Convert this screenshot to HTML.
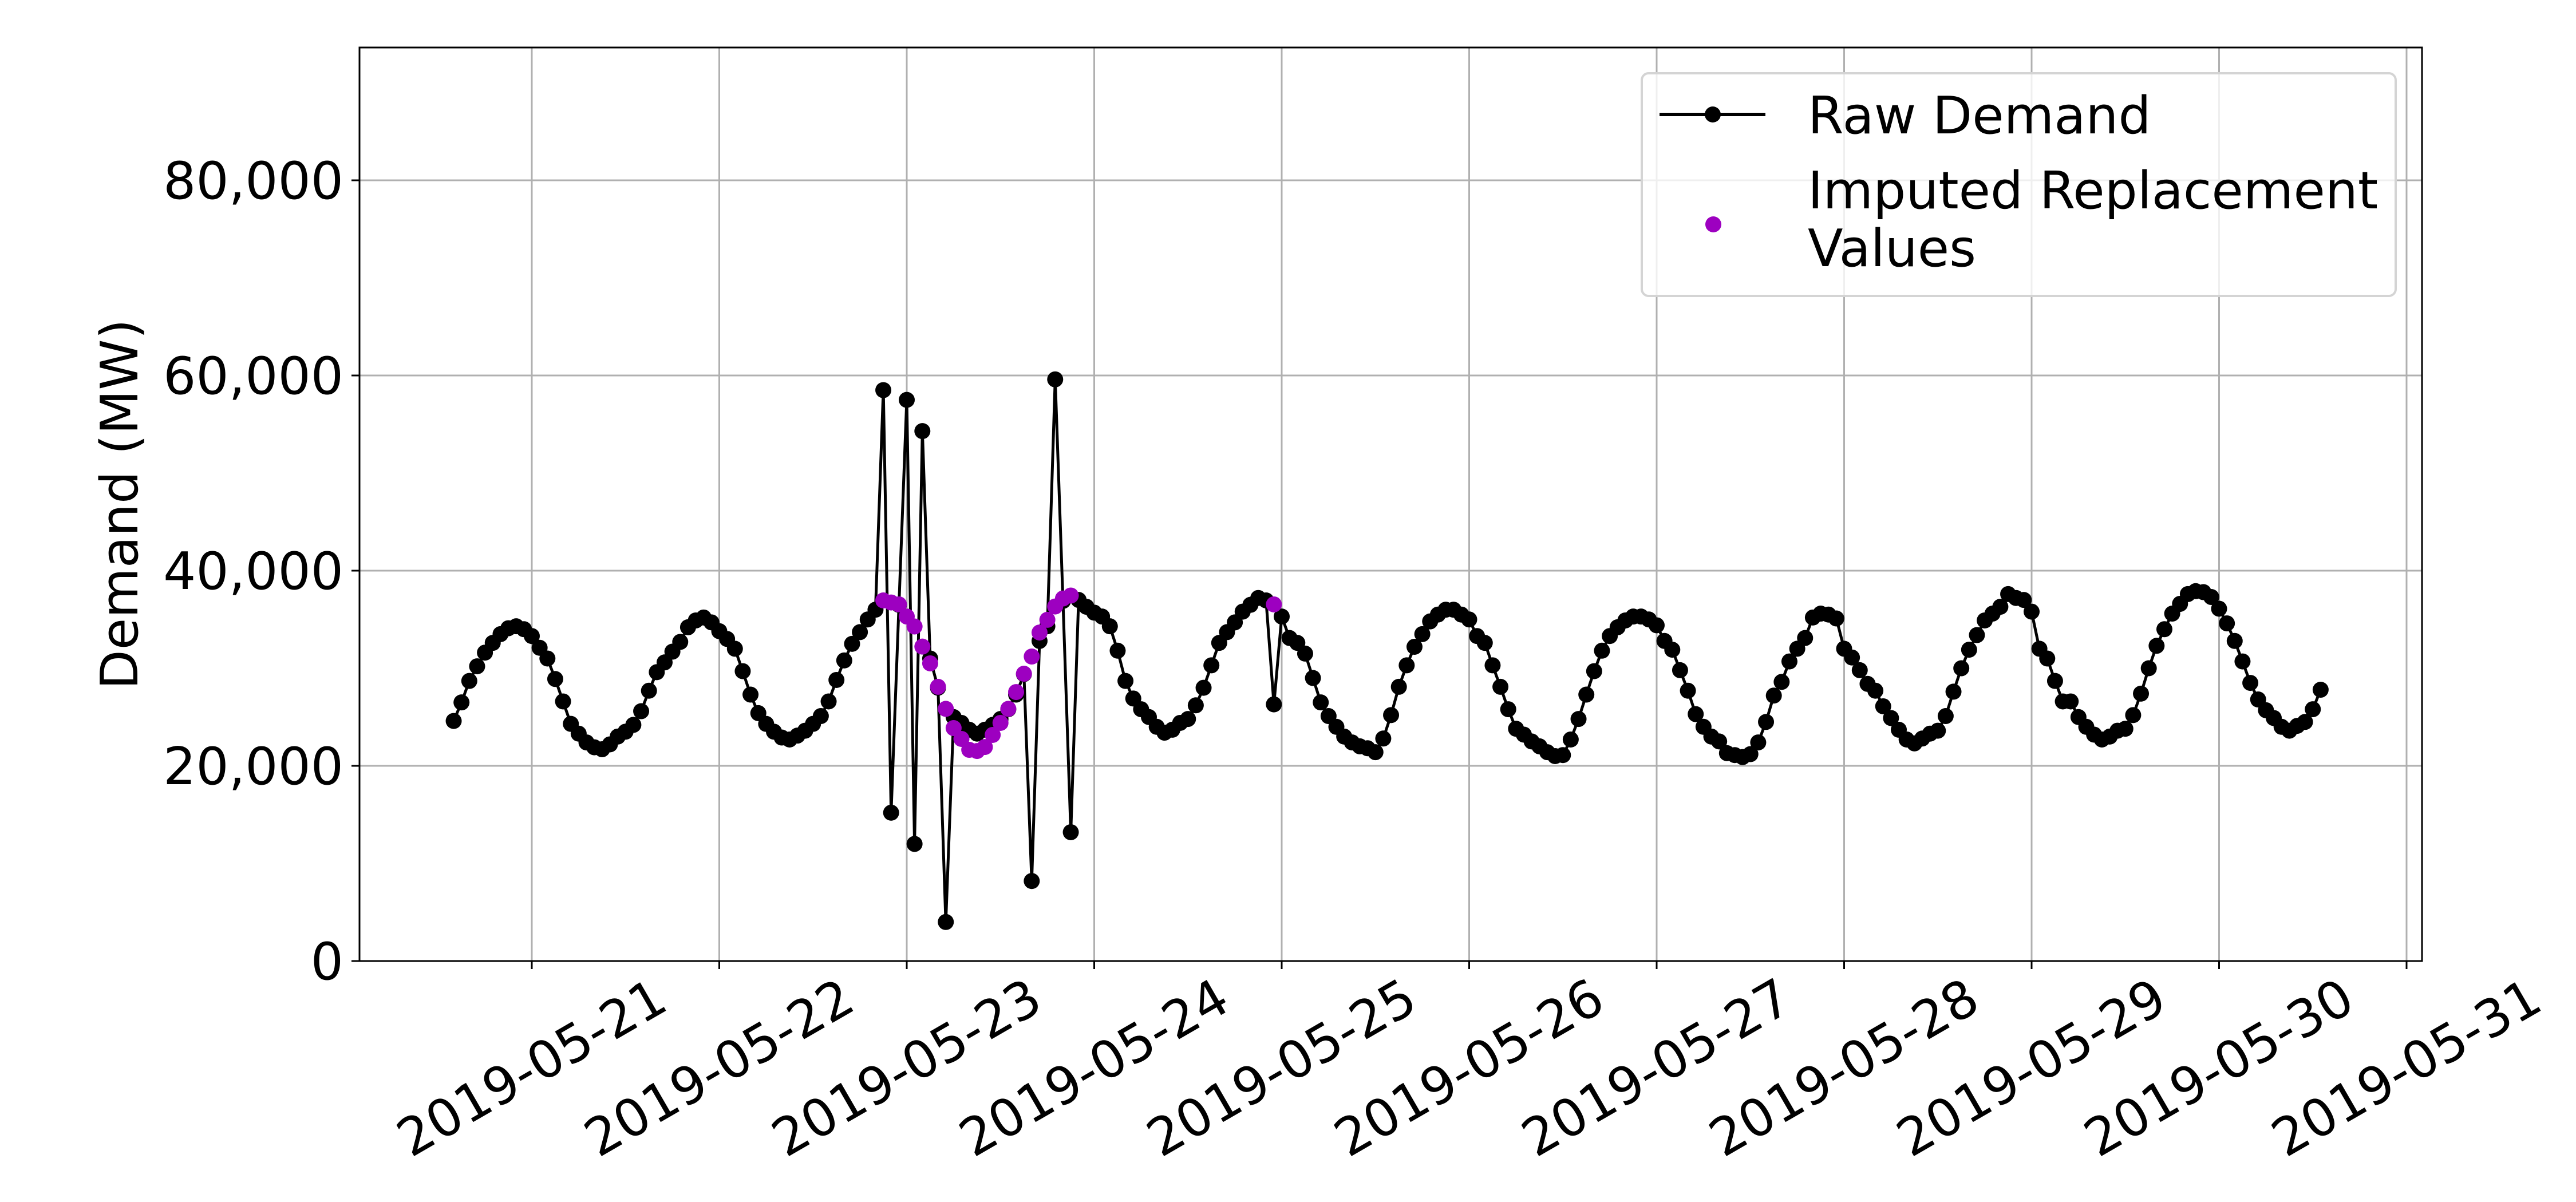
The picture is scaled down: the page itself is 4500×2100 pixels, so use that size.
<!DOCTYPE html>
<html>
<head>
<meta charset="utf-8">
<style>
  html, body { margin: 0; padding: 0; background: #fff; }
  svg { display: block; }
  text { font-family: "DejaVu Sans", "Liberation Sans", sans-serif; fill: #000; }
</style>
</head>
<body>
<svg id="chart" width="4500" height="2100" viewBox="0 0 4500 2100" xmlns="http://www.w3.org/2000/svg">
  <rect x="0" y="0" width="4500" height="2100" fill="#fff"/>
  <g id="grid"></g>
  <g id="series"></g>
  <rect x="628" y="83" width="3603" height="1596" fill="none" stroke="#000" stroke-width="3"/>
  <g id="yticks"></g>
  <g id="xticks"></g>
  <text transform="translate(240,881) rotate(-90)" text-anchor="middle" font-size="90">Demand (MW)</text>
  <g>
    <rect x="2868" y="128" width="1317" height="389" rx="12" fill="#fff" fill-opacity="0.8" stroke="#d4d4d4" stroke-width="4"/>
    <line x1="2899" y1="200" x2="3084" y2="200" stroke="#000" stroke-width="6"/>
    <circle cx="2992" cy="200" r="14" fill="#000"/>
    <text x="3158" y="233" font-size="90">Raw Demand</text>
    <circle cx="2993" cy="392" r="14" fill="#9d00c0"/>
    <text x="3158" y="364" font-size="90">Imputed Replacement</text>
    <text x="3158" y="465" font-size="90">Values</text>
  </g>
</svg>
<script>
// Hourly raw demand starting 2019-05-20 14:00
const startHour = -10; // hours relative to 2019-05-21 00:00
const rawValues = [
 24600,26500,28700,30200,31600,32600,33500,34100,34300,34000,
 33300,32100,31000,28900,26600,24300,23300,22400,21900,21700,22200,23000,23500,24200,25600,27700,29600,30600,31700,32700,34200,34900,35200,34700,
 33800,33000,32000,29700,27300,25400,24300,23500,22900,22700,23100,23600,24300,25100,26600,28800,30800,32500,33700,35000,36000,58500,15200,36500,
 57500,12000,54300,31000,28000,4000,25000,24400,23700,23300,23700,24200,24800,25800,27300,29400,8200,32800,34300,59600,36900,13200,37000,36300,
 35700,35300,34300,31800,28700,26900,25800,25000,24000,23400,23700,24400,24800,26200,28000,30300,32600,33700,34700,35800,36500,37200,36950,26300,
 35300,33100,32600,31500,29000,26500,25100,24000,23000,22400,22000,21800,21400,22800,25200,28100,30300,32200,33500,34800,35500,36000,36000,35500,
 35000,33300,32600,30300,28100,25800,23800,23200,22500,22000,21400,21000,21100,22700,24800,27300,29700,31800,33300,34200,34900,35300,35300,35000,
 34400,32800,31900,29800,27700,25300,24000,23000,22500,21300,21100,20900,21200,22400,24500,27200,28600,30700,32000,33100,35200,35600,35500,35100,
 32000,31100,29800,28400,27700,26100,24900,23700,22700,22300,22800,23300,23600,25100,27600,30000,31900,33400,34900,35600,36300,37600,37200,37000,
 35800,32000,31000,28700,26600,26600,25000,24000,23200,22700,23000,23600,23800,25200,27400,30000,32300,34000,35600,36600,37600,37900,37800,37300,
 36100,34600,32800,30700,28500,26800,25700,24900,24000,23600,24100,24500,25800,27800
];
// Imputed points: index into hourly series, and value
const imputedIdx = [55,56,57,58,59,60,61,62,63,64,65,66,67,68,69,70,71,72,73,74,75,76,77,78,79,105];
const imputedValues = [36950,36740,36540,35300,34280,32220,30500,28100,25840,23870,22760,21640,21520,21930,23170,24400,25840,27560,29440,31200,33660,34960,36330,37150,37450,36540];
const yTicks = [0,20000,40000,60000,80000];
const yTickLabels = ["0","20,000","40,000","60,000","80,000"];
const xTickDays = [0,1,2,3,4,5,6,7,8,9,10];
const xTickLabels = ["2019-05-21","2019-05-22","2019-05-23","2019-05-24","2019-05-25","2019-05-26","2019-05-27","2019-05-28","2019-05-29","2019-05-30","2019-05-31"];

const NS = "http://www.w3.org/2000/svg";
const L = 628, R = 4231, T = 83, B = 1679;
function xDay(d) { return 929 + d * 327.5; }
function xHour(i) { return xDay((startHour + i) / 24); }
function yVal(v) { return B - v / 20000 * 341; }
function mk(tag, attrs, parent) {
  const el = document.createElementNS(NS, tag);
  for (const k in attrs) el.setAttribute(k, attrs[k]);
  parent.appendChild(el);
  return el;
}
const grid = document.getElementById('grid');
const yt = document.getElementById('yticks');
const xt = document.getElementById('xticks');
const series = document.getElementById('series');

yTicks.forEach((v, i) => {
  const y = yVal(v);
  if (v > 0) {
    const g = mk('line', {x1: L, x2: R, y1: y, y2: y, stroke: '#b0b0b0', 'stroke-width': 3}, grid);
    
    
  }
  const t = mk('line', {x1: L - 14, x2: L, y1: y, y2: y, stroke: '#000', 'stroke-width': 3}, yt);
  
  
  const lb = mk('text', {x: L - 28, y: y + 32, 'text-anchor': 'end', 'font-size': 90}, yt);
  
  
  lb.textContent = yTickLabels[i];
});
xTickDays.forEach((d, i) => {
  const x = xDay(d);
  if (x < R) {
    const g = mk('line', {x1: x, x2: x, y1: T, y2: B, stroke: '#b0b0b0', 'stroke-width': 3}, grid);
    
    
  }
  const t = mk('line', {x1: x, x2: x, y1: B, y2: B + 14, stroke: '#000', 'stroke-width': 3}, xt);
  
  
  const lb = mk('text', {transform: 'translate(' + x + ',1866) rotate(-30)', 'text-anchor': 'middle', 'dominant-baseline': 'central', 'font-size': 90}, xt);
  
  
  lb.textContent = xTickLabels[i];
});

const pts = rawValues.map((v, i) => xHour(i).toFixed(1) + ',' + yVal(v).toFixed(1)).join(' ');
const line = mk('polyline', {points: pts, fill: 'none', stroke: '#000', 'stroke-width': 5, 'stroke-linejoin': 'round'}, series);


rawValues.forEach((v, i) => {
  const c = mk('circle', {cx: xHour(i), cy: yVal(v), r: 14, fill: '#000'}, series);
  
  
});
imputedValues.forEach((v, k) => {
  const c = mk('circle', {cx: xHour(imputedIdx[k]), cy: yVal(v), r: 14, fill: '#9d00c0'}, series);
  
  
});
</script>
</body>
</html>
